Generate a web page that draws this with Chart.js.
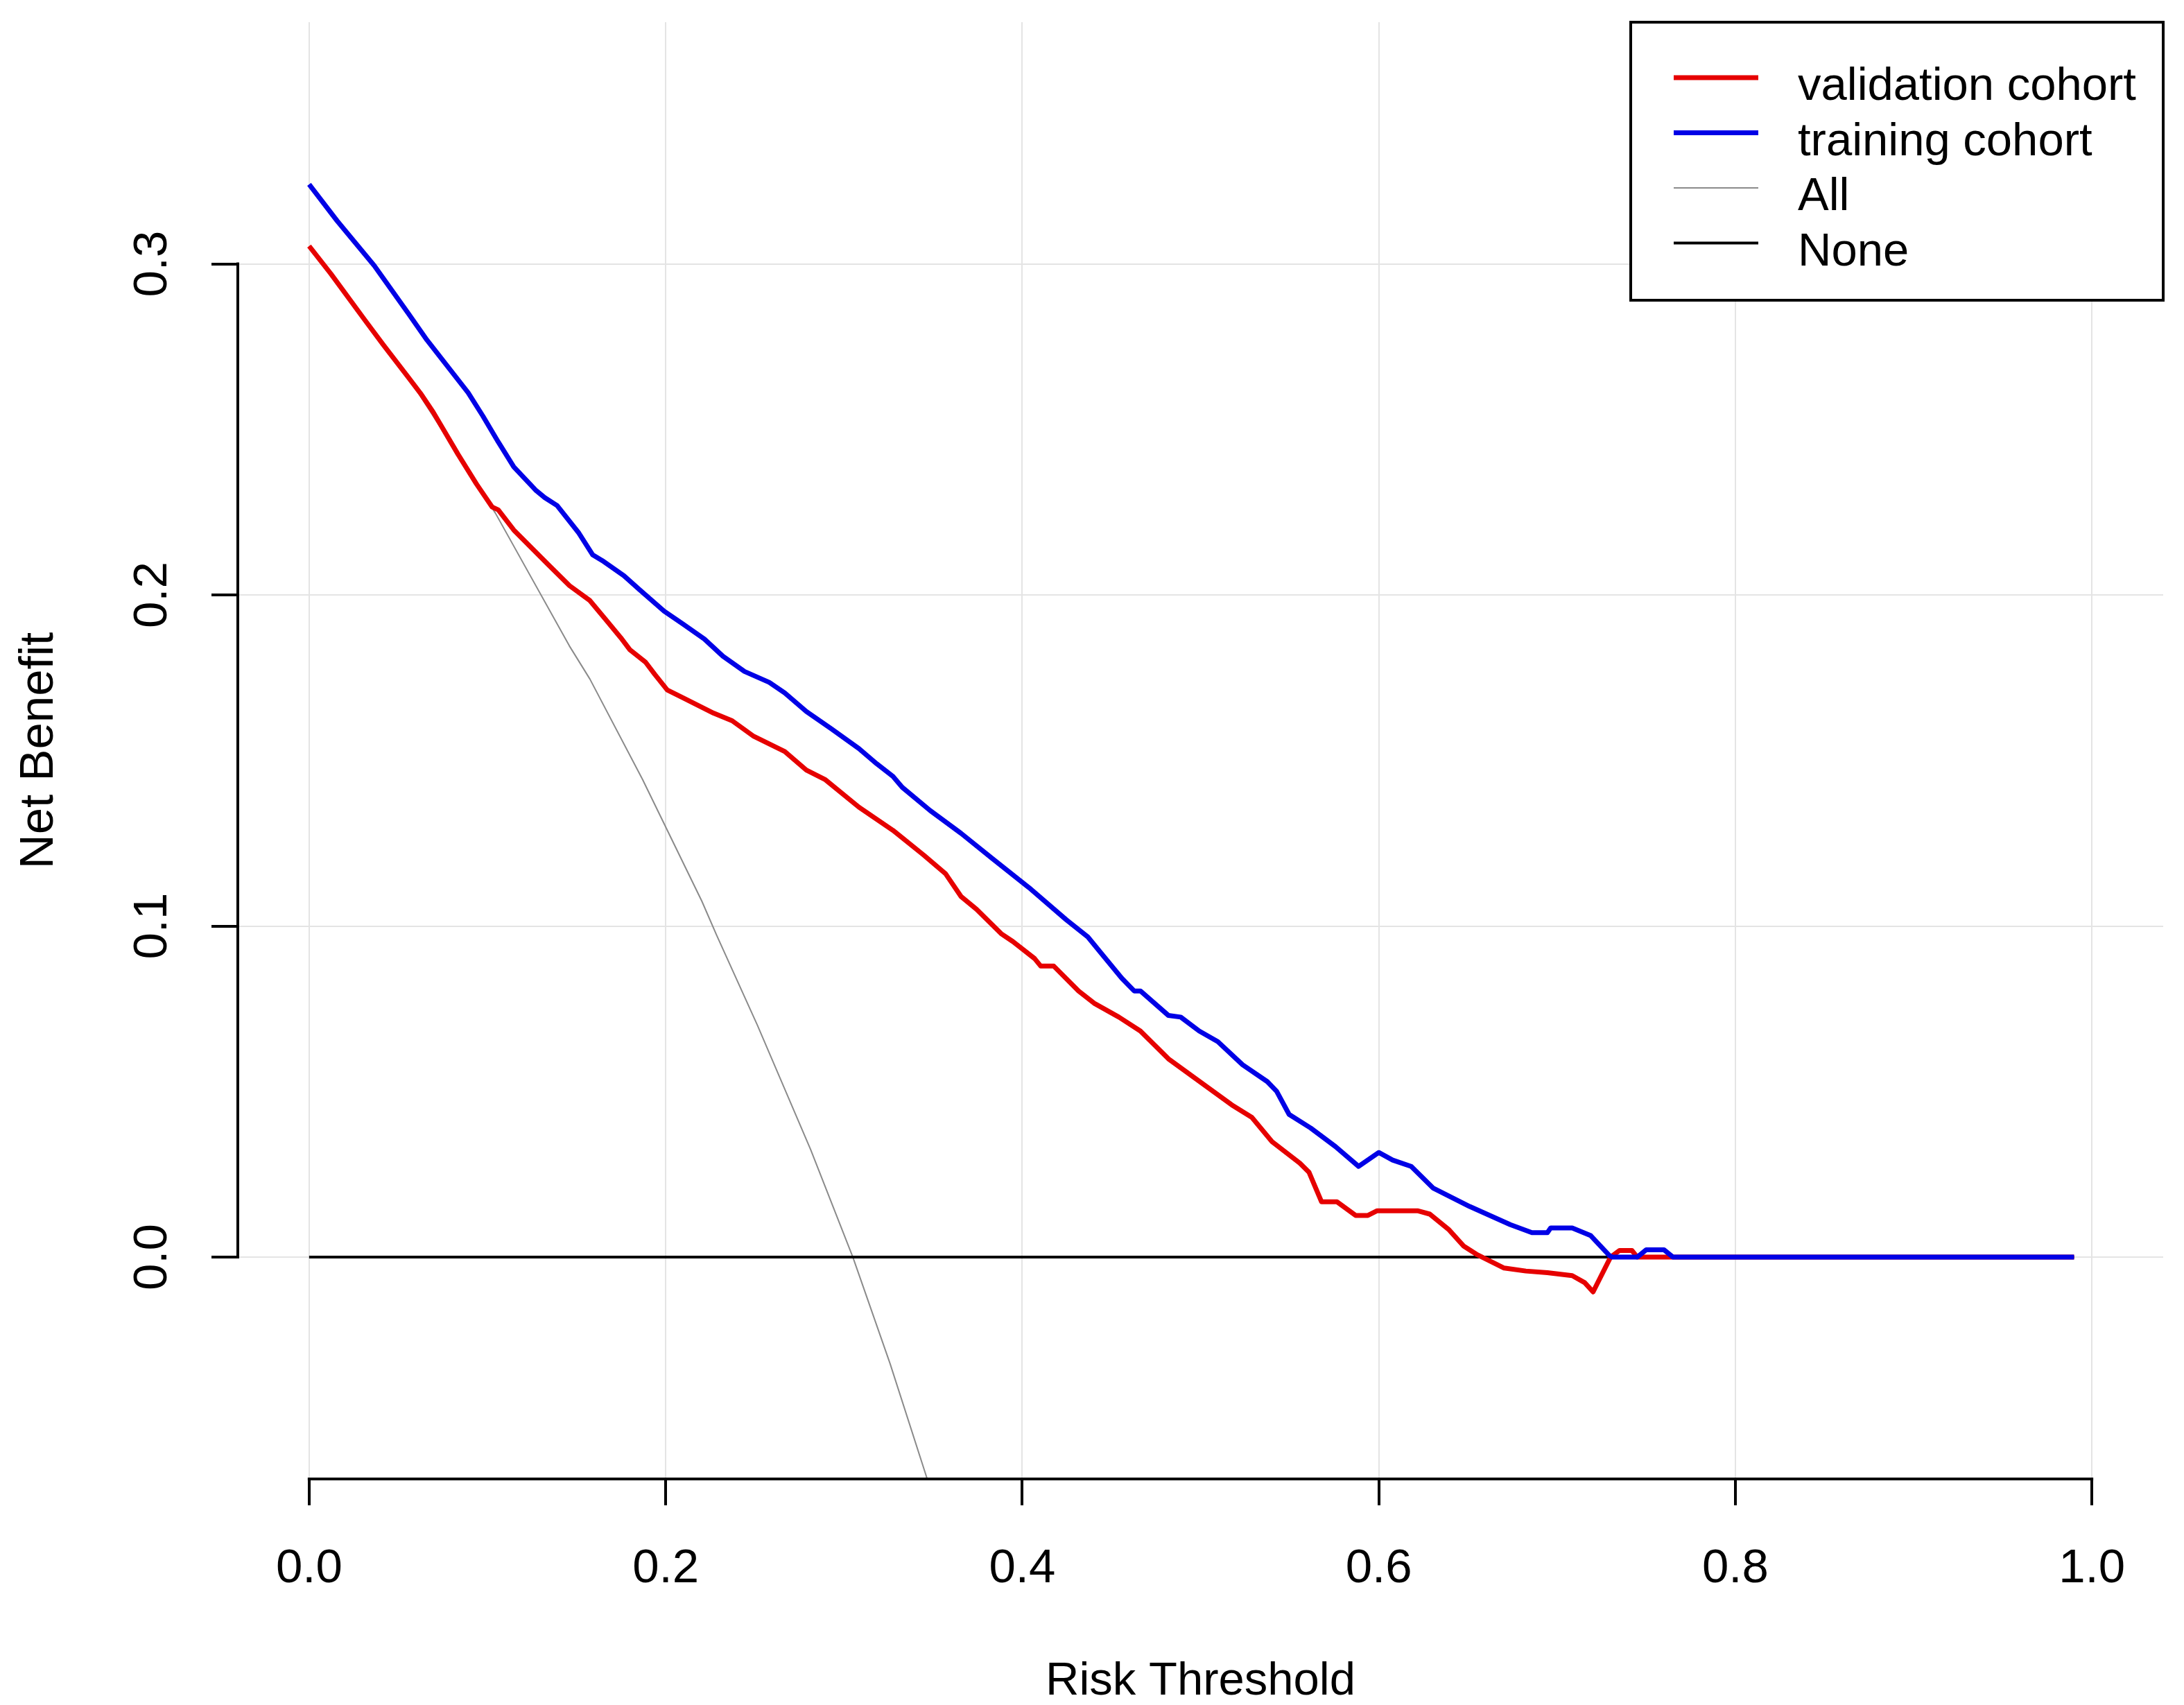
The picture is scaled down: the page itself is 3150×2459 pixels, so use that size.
<!DOCTYPE html>
<html>
<head>
<meta charset="utf-8">
<script src="https://cdn.jsdelivr.net/npm/chart.js@4.4.1/dist/chart.umd.min.js"></script>
<style>
html,body{margin:0;padding:0;background:#ffffff;}
canvas{display:block;}
</style>
</head>
<body>
<canvas id="c" width="3150" height="2459"></canvas>
<script>
// ---- data ----
const seriesLabels = ['validation cohort', 'training cohort', 'All', 'None'];
const xTicks = [0, 0.2, 0.4, 0.6, 0.8, 1.0];
const yTicks = [0, 0.1, 0.2, 0.3];
const xTitle = 'Risk Threshold';
const yTitle = 'Net Benefit';

// validation cohort (red)
const valX = [0.000,0.0122,0.0313,0.0417,0.0557,0.0625,0.0696,0.0835,0.0939,0.1026,0.1061,0.1148,0.1339,0.1461,0.1575,0.1662,0.1748,0.1800,0.1887,0.1939,0.2009,0.2095,0.2269,0.2373,0.2494,0.2668,0.2789,0.2893,0.3084,0.3275,0.3448,0.3570,0.3657,0.3743,0.3882,0.3948,0.4069,0.4104,0.4177,0.4316,0.4403,0.4542,0.4663,0.4820,0.5045,0.5175,0.5288,0.5401,0.5557,0.5609,0.5679,0.5766,0.5870,0.5939,0.5991,0.6217,0.6286,0.6391,0.6477,0.6547,0.6703,0.6825,0.6946,0.7085,0.7155,0.7202,0.7300,0.7350,0.7420,0.7450,0.7600,0.9900];
const valY = [0.3054,0.2970,0.2830,0.2755,0.2657,0.2609,0.2552,0.2425,0.2335,0.2266,0.2257,0.2196,0.2093,0.2028,0.1983,0.1927,0.1871,0.1834,0.1797,0.1760,0.1713,0.1690,0.1643,0.1620,0.1573,0.1527,0.1471,0.1443,0.1359,0.1289,0.1214,0.1158,0.1089,0.1051,0.0977,0.0953,0.0902,0.0879,0.0879,0.0804,0.0767,0.0725,0.0683,0.0599,0.0511,0.0460,0.0422,0.0349,0.0284,0.0256,0.0167,0.0167,0.0126,0.0126,0.0140,0.0140,0.0130,0.0084,0.0033,0.0009,-0.0033,-0.0042,-0.0047,-0.0056,-0.0077,-0.0105,0.0000,0.0020,0.0020,0.0000,0.0000,0.0000];

// training cohort (blue)
const trainX = [0.000,0.0157,0.0365,0.0557,0.0661,0.0835,0.0892,0.0974,0.1061,0.1148,0.1270,0.1322,0.1391,0.1513,0.1591,0.1644,0.1766,0.1853,0.1991,0.2095,0.2217,0.2321,0.2442,0.2581,0.2668,0.2789,0.2928,0.3084,0.3184,0.3275,0.3327,0.3483,0.3657,0.3830,0.4038,0.4247,0.4368,0.4438,0.4559,0.4628,0.4663,0.4820,0.4889,0.4993,0.5097,0.5236,0.5375,0.5427,0.5497,0.5618,0.5757,0.5887,0.6000,0.6078,0.6182,0.6304,0.6510,0.6738,0.6859,0.6946,0.6964,0.7085,0.7189,0.7293,0.7310,0.7450,0.7500,0.7600,0.7650,0.9900];
const trainY = [0.3240,0.3130,0.2995,0.2850,0.2770,0.2650,0.2611,0.2541,0.2462,0.2387,0.2317,0.2294,0.2270,0.2187,0.2121,0.2104,0.2058,0.2016,0.1951,0.1913,0.1867,0.1815,0.1769,0.1736,0.1704,0.1648,0.1596,0.1536,0.1490,0.1452,0.1419,0.1349,0.1280,0.1205,0.1116,0.1019,0.0967,0.0921,0.0842,0.0804,0.0804,0.0730,0.0725,0.0683,0.0651,0.0581,0.0530,0.0501,0.0431,0.0390,0.0334,0.0274,0.0316,0.0293,0.0274,0.0209,0.0153,0.0098,0.0074,0.0074,0.0088,0.0088,0.0065,0.0005,0.0000,0.0000,0.0022,0.0022,0.0000,0.0000];

// treat all (grey)
const allX = [0.000,0.0557,0.1045,0.1460,0.1575,0.1870,0.2203,0.2286,0.2515,0.2813,0.3050,0.3259,0.3467];
const allY = [0.3054,0.2657,0.2247,0.1846,0.1746,0.1443,0.1075,0.0972,0.0700,0.0325,0.0000,-0.0322,-0.0670];

// treat none (black)
const noneX = [0.000, 0.990];
const noneY = [0.000, 0.000];

const FONT = "'Liberation Sans', Arial, Helvetica, sans-serif";

function pts(xs, ys) { return xs.map((x, i) => ({ x: x, y: ys[i] })); }

const axisLines = {
  id: 'axisLines',
  afterDraw(chart) {
    const { ctx, chartArea, scales } = chart;
    const xs = scales.x, ys = scales.y;
    ctx.save();
    ctx.strokeStyle = '#000';
    ctx.lineWidth = 4;
    ctx.beginPath();
    ctx.moveTo(xs.getPixelForValue(xTicks[0]) - 2, chartArea.bottom);
    ctx.lineTo(xs.getPixelForValue(xTicks[xTicks.length - 1]) + 2, chartArea.bottom);
    ctx.moveTo(chartArea.left, ys.getPixelForValue(yTicks[0]) + 2);
    ctx.lineTo(chartArea.left, ys.getPixelForValue(yTicks[yTicks.length - 1]) - 2);
    ctx.stroke();
    ctx.restore();
  }
};

const boxLegend = {
  id: 'boxLegend',
  afterDraw(chart) {
    const { ctx, chartArea } = chart;
    const w = 768, h = 401;
    const left = chartArea.right - w;
    const top = chartArea.top;
    ctx.save();
    ctx.fillStyle = '#fff';
    ctx.fillRect(left, top, w, h);
    ctx.lineWidth = 4;
    ctx.strokeStyle = '#000';
    ctx.strokeRect(left, top, w, h);
    ctx.font = '67px ' + FONT;
    ctx.textBaseline = 'alphabetic';
    ctx.textAlign = 'left';
    chart.data.datasets.forEach((ds, i) => {
      const rowY = top + 80 + i * 79.5;
      ctx.strokeStyle = ds.borderColor;
      ctx.lineWidth = ds.borderWidth;
      ctx.beginPath();
      ctx.moveTo(left + 62, rowY);
      ctx.lineTo(left + 184, rowY);
      ctx.stroke();
      ctx.fillStyle = '#000';
      ctx.fillText(ds.label, left + 241, rowY + 32);
    });
    ctx.restore();
  }
};

new Chart(document.getElementById('c'), {
  type: 'scatter',
  data: {
    datasets: [
      { label: seriesLabels[0], data: pts(valX, valY), borderColor: '#e60000', backgroundColor: '#e60000', borderWidth: 7, order: 1 },
      { label: seriesLabels[1], data: pts(trainX, trainY), borderColor: '#0000e6', backgroundColor: '#0000e6', borderWidth: 7, order: 0 },
      { label: seriesLabels[2], data: pts(allX, allY), borderColor: '#8a8a8a', backgroundColor: '#8a8a8a', borderWidth: 2, order: 3 },
      { label: seriesLabels[3], data: pts(noneX, noneY), borderColor: '#000000', backgroundColor: '#000000', borderWidth: 4, order: 2 }
    ].map(d => Object.assign(d, { showLine: true, pointRadius: 0, pointHoverRadius: 0, tension: 0, fill: false, borderJoinStyle: 'round' }))
  },
  options: {
    responsive: false,
    animation: false,
    devicePixelRatio: 1,
    layout: { padding: { left: 0, right: 30, top: 32, bottom: 0 } },
    plugins: { legend: { display: false }, tooltip: { enabled: false } },
    scales: {
      x: {
        type: 'linear', min: -0.04, max: 1.04,
        afterBuildTicks: s => { s.ticks = xTicks.map(v => ({ value: v })); },
        afterFit: s => { s.height = 326; s.paddingLeft = 0; s.paddingRight = 0; },
        grid: { color: '#e4e4e4', lineWidth: 2, tickColor: '#000', tickLength: 38, tickWidth: 4, drawTicks: true },
        border: { display: false },
        ticks: { color: '#000', font: { family: FONT, size: 69 }, padding: 51, minRotation: 0, maxRotation: 0, autoSkip: false, callback: v => Number(v).toFixed(1) },
        title: { display: true, text: xTitle, color: '#000', font: { family: FONT, size: 67, lineHeight: 1 }, padding: { top: 0, bottom: 0 } }
      },
      y: {
        type: 'linear', min: -0.067, max: 0.373,
        afterBuildTicks: s => { s.ticks = yTicks.map(v => ({ value: v })); },
        afterFit: s => { s.width = 343; s.paddingTop = 0; s.paddingBottom = 0; },
        grid: { color: '#e4e4e4', lineWidth: 2, tickColor: '#000', tickLength: 38, tickWidth: 4, drawTicks: true },
        border: { display: false },
        ticks: { color: '#000', font: { family: FONT, size: 69 }, padding: 36, minRotation: 90, maxRotation: 90, crossAlign: 'center', autoSkip: false, callback: v => Number(v).toFixed(1) },
        title: { display: true, text: yTitle, color: '#000', font: { family: FONT, size: 69, lineHeight: 1 }, padding: { top: 22, bottom: 0 } }
      }
    }
  },
  plugins: [axisLines, boxLegend]
});
</script>
</body>
</html>
